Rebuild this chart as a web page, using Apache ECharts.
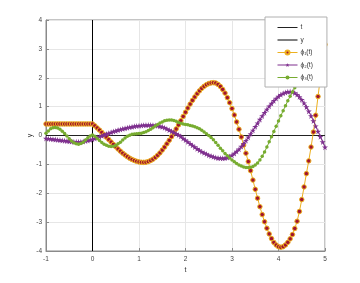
<!DOCTYPE html>
<html><head><meta charset="utf-8">
<script src="https://cdn.jsdelivr.net/npm/echarts@6/dist/echarts.min.js"></script>
<style>html,body{margin:0;padding:0;background:#fff}#c{width:360px;height:283px}</style>
</head><body><div id="c"></div>
<script>
var tVals = [-1,-0.95,-0.9,-0.85,-0.8,-0.75,-0.7,-0.65,-0.6,-0.55,-0.5,-0.45,-0.4,-0.35,-0.3,-0.25,-0.2,-0.15,-0.1,-0.05,
0,0.05,0.1,0.15,0.2,0.25,0.3,0.35,0.4,0.45,0.5,0.55,0.6,0.65,0.7,0.75,0.8,0.85,0.9,0.95,
1,1.05,1.1,1.15,1.2,1.25,1.3,1.35,1.4,1.45,1.5,1.55,1.6,1.65,1.7,1.75,1.8,1.85,1.9,1.95,
2,2.05,2.1,2.15,2.2,2.25,2.3,2.35,2.4,2.45,2.5,2.55,2.6,2.65,2.7,2.75,2.8,2.85,2.9,2.95,
3,3.05,3.1,3.15,3.2,3.25,3.3,3.35,3.4,3.45,3.5,3.55,3.6,3.65,3.7,3.75,3.8,3.85,3.9,3.95,
4,4.05,4.1,4.15,4.2,4.25,4.3,4.35,4.4,4.45,4.5,4.55,4.6,4.65,4.7,4.75,4.8,4.85,4.9,4.95,5];

var phi1 = [0.4,0.4,0.4,0.4,0.4,0.4,0.4,0.4,0.4,0.4,0.4,0.4,0.4,0.4,0.4,0.4,0.4,0.4,0.4,0.4,0.4,
0.335,0.262,0.187,0.108,0.026,-0.058,-0.142,-0.226,-0.309,-0.391,-0.468,-0.542,-0.612,-0.676,-0.734,-0.786,-0.830,-0.867,-0.895,-0.916,-0.927,
-0.93,
-0.923,-0.902,-0.868,-0.820,-0.759,-0.686,-0.602,-0.505,-0.401,-0.288,-0.167,-0.040,0.093,0.229,0.367,
0.511,0.661,0.807,0.951,1.088,1.217,1.337,1.448,1.546,1.633,1.703,1.760,1.798,1.822,1.83,
1.816,1.770,1.699,1.596,1.468,1.311,1.135,0.932,0.710,0.471,0.217,-0.051,-0.330,-0.615,-0.903,
-1.217,-1.544,-1.864,-2.171,-2.465,-2.739,-2.987,-3.212,-3.408,-3.571,-3.702,-3.793,-3.850,
-3.87,-3.85,-3.79,-3.70,-3.58,-3.43,-3.22,-2.97,-2.63,-2.22,-1.78,-1.32,-0.88,-0.40,0.12,0.70,1.35,2.00,2.60,3.15];

var phi2 = [-0.10,-0.11,-0.12,-0.13,-0.14,-0.15,-0.16,-0.17,-0.18,-0.19,-0.20,-0.21,-0.22,-0.22,-0.22,-0.22,-0.21,-0.19,-0.17,-0.15,-0.13,
-0.10,-0.07,-0.04,-0.01,0.02,0.05,0.08,0.11,0.14,0.16,0.19,0.21,0.23,0.25,0.27,0.29,0.30,0.32,0.33,0.34,0.35,0.355,0.36,0.36,0.36,0.355,0.35,0.34,0.32,0.30,0.27,0.23,0.19,0.15,0.11,0.06,0.02,-0.03,
-0.10,-0.16,-0.22,-0.28,-0.34,-0.40,-0.46,-0.51,-0.56,-0.60,-0.64,-0.68,-0.71,-0.74,-0.76,-0.78,-0.785,-0.79,
-0.783,-0.763,-0.730,-0.684,-0.625,-0.554,-0.474,-0.382,-0.283,-0.176,-0.062,0.057,0.178,0.303,0.427,0.552,0.675,0.792,0.906,1.013,1.112,1.203,1.284,1.355,1.414,1.460,1.493,1.513,1.52,
1.508,1.474,1.417,1.338,1.239,1.122,0.986,0.838,0.676,0.504,0.325,0.143,-0.042,-0.225,-0.404];

var phi3 = [0.08,0.16,0.23,0.27,0.28,0.26,0.22,0.15,0.07,-0.02,-0.11,-0.19,-0.25,-0.29,-0.30,-0.28,-0.23,-0.16,-0.08,-0.02,0.02,
-0.03,-0.10,-0.17,-0.24,-0.30,-0.34,-0.37,-0.38,-0.37,-0.34,-0.29,-0.23,-0.16,-0.09,-0.03,0.01,0.04,0.05,0.06,0.07,
0.08,0.10,0.13,0.17,0.22,0.27,0.33,0.38,0.43,0.47,0.51,0.53,0.54,0.54,0.52,0.49,0.45,0.42,0.40,0.38,
0.37,0.35,0.33,0.30,0.27,0.23,0.18,0.12,0.06,0.00,-0.07,-0.15,-0.24,-0.34,-0.44,-0.53,-0.62,-0.70,-0.78,-0.85,
-0.91,-0.97,-1.02,-1.06,-1.09,-1.11,-1.11,-1.10,-1.07,-1.02,-0.95,-0.85,-0.72,-0.57,-0.40,-0.22,-0.04,0.14,0.32,0.50,
0.68,0.86,1.03,1.20,1.36,1.51,1.65,1.78,1.90,2.01,2.11,2.19,2.26,2.31,2.34,2.36,2.36,2.34,2.30,2.25];

var tAxisT = [-1, 5], tAxisY = [0, 0];
var yAxisT = [0, 0], yAxisY = [-4, 4];
var xTicks = [-1, 0, 1, 2, 3, 4, 5];
var yTicks = [-4, -3, -2, -1, 0, 1, 2, 3, 4];
var names = ['t', 'y', 'ϕ₁(t)', 'ϕ₂(t)', 'ϕ₃(t)'];

function pairs(xs, ys) { return xs.map(function (x, i) { return [x, ys[i]]; }); }

var star = 'path://M50,0 L61,35 L98,35 L68,57 L79,91 L50,70 L21,91 L32,57 L2,35 L39,35 Z';
var font = 'Liberation Sans, Arial, sans-serif';
var chart = echarts.init(document.getElementById('c'), null, {renderer: 'canvas'});
chart.setOption({
  animation: false,
  backgroundColor: '#fff',
  textStyle: {fontFamily: font},
  grid: {left: 46, right: 35, top: 20, bottom: 32, show: true, borderColor: '#8a8a8a', borderWidth: 1, backgroundColor: '#fff'},
  legend: {
    orient: 'vertical', left: 265, top: 17, z: 50,
    data: [
      {name: names[0], itemStyle: {opacity: 0}},
      {name: names[1], itemStyle: {opacity: 0}},
      {name: names[2]}, {name: names[3]}, {name: names[4]}
    ],
    backgroundColor: '#fff', borderColor: '#b0b0b0', borderWidth: 1, borderRadius: 0,
    padding: [7, 14, 6, 12], itemWidth: 20, itemHeight: 5, itemGap: 5.5,
    lineStyle: {width: 1},
    textStyle: {fontSize: 6.5, color: '#333', fontFamily: font, padding: [0, 0, 0, -2]}
  },
  xAxis: {
    type: 'value', min: xTicks[0], max: xTicks[xTicks.length - 1], interval: 1,
    name: 't', nameLocation: 'middle', nameGap: 16, nameMoveOverlap: false,
    nameTextStyle: {fontSize: 7, color: '#333'},
    axisLine: {show: true, onZero: false, lineStyle: {color: '#8a8a8a', width: 1}},
    axisTick: {show: true, inside: true, length: 3, lineStyle: {color: '#8a8a8a'}},
    axisLabel: {fontSize: 6.5, color: '#444', margin: 5},
    splitLine: {show: true, lineStyle: {color: '#e6e6e6', width: 1}}
  },
  yAxis: {
    type: 'value', min: yTicks[0], max: yTicks[yTicks.length - 1], interval: 1,
    name: 'y', nameLocation: 'middle', nameGap: 12, nameRotate: 90, nameMoveOverlap: false,
    nameTextStyle: {fontSize: 7, color: '#333'},
    axisLine: {show: true, onZero: false, lineStyle: {color: '#8a8a8a', width: 1}},
    axisTick: {show: true, inside: true, length: 3, lineStyle: {color: '#8a8a8a'}},
    axisLabel: {fontSize: 6.5, color: '#444', margin: 4},
    splitLine: {show: true, lineStyle: {color: '#e6e6e6', width: 1}}
  },
  series: [
    {name: names[0], type: 'line', symbol: 'none', data: pairs(tAxisT, tAxisY),
     lineStyle: {color: '#222', width: 1}, itemStyle: {color: '#222'}, z: 2},
    {name: names[1], type: 'line', symbol: 'none', data: pairs(yAxisT, yAxisY),
     lineStyle: {color: '#000', width: 1}, itemStyle: {color: '#000'}, z: 2},
    {name: names[2], type: 'line', data: pairs(tVals, phi1), showAllSymbol: true,
     symbol: 'circle', symbolSize: 4.5,
     lineStyle: {color: '#EDB120', width: 1},
     itemStyle: {color: '#A2142F', borderColor: '#EDB120', borderWidth: 1}, z: 3},
    {name: names[3], type: 'line', data: pairs(tVals, phi2), showAllSymbol: true,
     symbol: star, symbolSize: 6,
     lineStyle: {color: '#7E2F8E', width: 1},
     itemStyle: {color: '#7E2F8E'}, z: 4},
    {name: names[4], type: 'line', data: pairs(tVals, phi3), showAllSymbol: true,
     symbol: 'circle', symbolSize: 3.5,
     lineStyle: {color: '#77AC30', width: 1},
     itemStyle: {color: '#77AC30', borderWidth: 0}, z: 5}
  ]
});
</script></body></html>
